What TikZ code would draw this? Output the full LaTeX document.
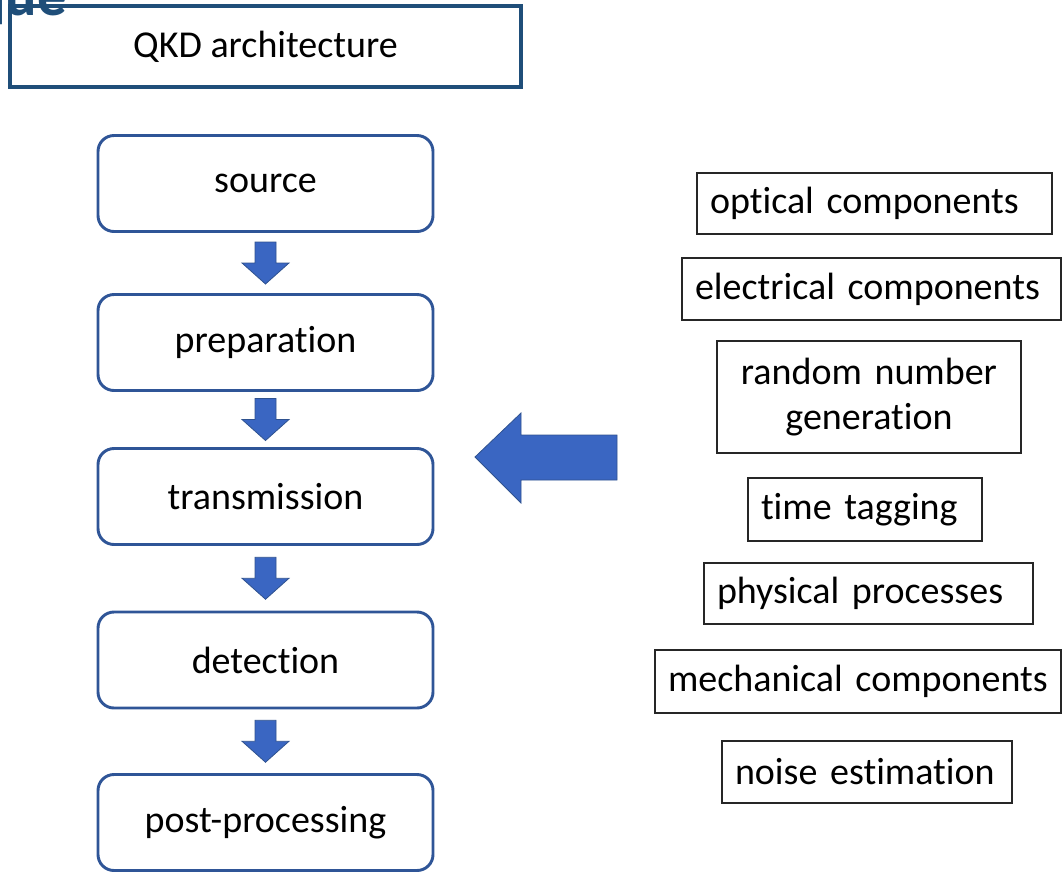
\documentclass[tikz,border=0pt]{standalone}
\usepackage{fontspec}
\setmainfont{Carlito}[Ligatures=NoCommon]
\usetikzlibrary{calc}
\definecolor{flowblue}{HTML}{2F5597}
\definecolor{arrowblue}{HTML}{3A66C2}
\definecolor{arrowedge}{HTML}{2F528F}
\definecolor{headblue}{HTML}{1F4E79}
\begin{document}
\begin{tikzpicture}[x=0.75pt,y=-0.75pt,
  lbl/.style={font=\fontsize{28.5}{36}\selectfont, text=black},
  titlebox/.style={draw=headblue, line width=2.3pt, fill=white,
    minimum width=383.25pt, minimum height=60.75pt, inner sep=0pt, lbl},
  stage/.style={draw=flowblue, line width=2.2pt, rounded corners=12pt,
    minimum width=251.25pt, minimum height=72pt, inner sep=0pt, lbl},
  item/.style={draw=black!85, line width=1.3pt, inner xsep=9.75pt,
    inner ysep=0pt, align=left, lbl},
  blockarrow/.style={fill=arrowblue, draw=arrowedge, line width=0.6pt},
  downarrow/.pic={\path[blockarrow] (-10.5,-21) -- (10.5,-21) -- (10.5,0)
    -- (23.5,0) -- (0,21) -- (-23.5,0) -- (-10.5,0) -- cycle;}
]
\useasboundingbox (0,0) rectangle (1062,871);

% title box and the heading above it
\node[titlebox] (title) at (265.5,46.5) {QKD architecture};
\node[anchor=base west, inner sep=0pt, text=headblue,
  font=\fontsize{44}{50}\selectfont\bfseries] (heading) at (-26,15) {que};

% processing chain
\node[stage] (source) at (265.5,183.5) {source};
\node[stage] (prep)   at (265.5,342.5) {preparation};
\node[stage] (trans)  at (265.5,496.5) {transmission};
\node[stage] (detect) at (265.5,660)   {detection};
\node[stage] (post)   at (265.5,822.5) {post-processing};

\path ($(source.south)!0.5!(prep.north)$) pic {downarrow};
\path ($(prep.south)!0.5!(trans.north)$) pic {downarrow};
\path ($(trans.south)!0.5!(detect.north)$) pic {downarrow};
\path ($(detect.south)!0.5!(post.north)$) pic {downarrow};

% contributing factors
\node[item, text width=246.75pt, minimum height=45.75pt] (optical) at (874.5,203.5) {optical components};
\node[item, text width=264.75pt, minimum height=46.5pt] (electrical) at (871.5,289) {electrical components};
\node[item, text width=208.5pt, minimum height=84pt, align=center, font=\fontsize{28.5}{34}\selectfont] (rng) at (869,397) {random number\\generation};
\node[item, text width=156pt, minimum height=47.25pt] (timetag) at (865,509.5) {time tagging};
\node[item, text width=227.25pt, minimum height=45.75pt] (physical) at (868.5,593.5) {physical processes};
\node[item, text width=285pt, minimum height=47.25pt] (mechanical) at (858,681.5) {mechanical components};
\node[item, text width=198pt, minimum height=46.5pt] (noise) at (867,772) {noise estimation};

% block arrow pointing into the chain
\coordinate (bigtip) at (475,457);
\path[blockarrow] (bigtip) -- ++(46,-44) -- ++(0,22) -- ++(96,0) -- ++(0,45)
  -- ++(-96,0) -- ++(0,23) -- cycle;
\end{tikzpicture}
\end{document}
